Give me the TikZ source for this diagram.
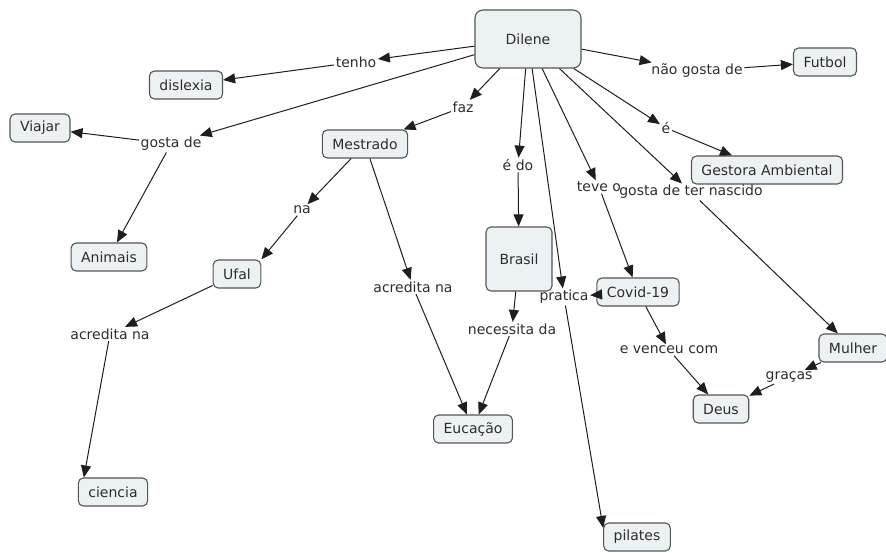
\documentclass[tikz,border=0pt]{standalone}
\usepackage{fontspec}
\setmainfont{DejaVu Sans}
\usepackage{tikz}
\usetikzlibrary{arrows.meta, positioning}
\definecolor{conceptfill}{RGB}{236,241,244}
\definecolor{conceptline}{RGB}{85,85,85}
\definecolor{cmaptext}{RGB}{45,45,45}
\definecolor{cmaparrow}{RGB}{30,30,30}
\tikzset{
  concept/.style={
    rectangle, rounded corners=5pt, draw=conceptline, fill=conceptfill,
    line width=1.1pt, minimum height=28pt, inner xsep=10pt,
    font=\fontsize{14}{16}\selectfont, text=cmaptext
  },
  linkphrase/.style={
    inner sep=1.5pt, font=\fontsize{14}{16}\selectfont, text=cmaptext
  },
  cmaparc/.style={
    -{Triangle[length=12pt,width=10pt]}, line width=1pt, draw=cmaparrow
  },
}

\begin{document}
\begin{tikzpicture}[x=1pt, y=-1pt]
  \useasboundingbox (0,0) rectangle (886,553);
  \node[concept, minimum width=106pt, minimum height=58pt,
        rounded corners=8pt] (dilene) at (528,39) {Dilene};
  \node[concept] (futbol)   at (825,62)  {Futbol};
  \node[concept] (dislexia) at (186,85)  {dislexia};
  \node[concept] (viajar)   at (40,128)  {Viajar};
  \node[concept] (mestrado) at (365,144) {Mestrado};
  \node[concept] (gestora)  at (767,170) {Gestora Ambiental};
  \node[concept] (animais)  at (109,257) {Animais};
  \node[concept] (ufal)     at (237,274) {Ufal};
  \node[concept, minimum width=66pt, minimum height=64pt]
        (brasil) at (519,259) {Brasil};
  \node[concept] (covid)    at (638,292) {Covid-19};
  \node[concept] (mulher)   at (853,348) {Mulher};
  \node[concept] (deus)     at (721,409) {Deus};
  \node[concept] (educacao) at (473,429) {Eucação};
  \node[concept] (ciencia)  at (113,492) {ciencia};
  \node[concept] (pilates)  at (637,537) {pilates};

  \node[linkphrase] (tenho)     at (356,62)  {tenho};
  \node[linkphrase] (gostade)   at (171,144) {gosta de};
  \node[linkphrase] (faz)       at (463,107) {faz};
  \node[linkphrase] (naogosta)  at (697,71)  {não gosta de};
  \node[linkphrase] (eh)        at (666,128) {é};
  \node[linkphrase] (ehdo)      at (518,165) {é do};
  \node[linkphrase] (teveo)     at (599,187) {teve o};
  \node[linkphrase] (nascido)   at (691,192) {gosta de ter nascido};
  \node[linkphrase] (na)        at (302,210) {na};
  \node[linkphrase] (acredmest) at (413,287) {acredita na};
  \node[linkphrase] (acredufal) at (110,334) {acredita na};
  \node[linkphrase] (necessita) at (512,329) {necessita da};
  \node[linkphrase] (pratica)   at (564,297) {pratica};
  \node[linkphrase] (venceu)    at (669,350) {e venceu com};
  \node[linkphrase] (gracas)    at (789,377) {graças};

  \draw[cmaparc] (dilene) -- (tenho);
  \draw[cmaparc] (tenho) -- (dislexia);
  \draw[cmaparc] (dilene) -- (gostade);
  \draw[cmaparc] (gostade) -- (viajar);
  \draw[cmaparc] (gostade) -- (animais);
  \draw[cmaparc] (dilene) -- (faz);
  \draw[cmaparc] (faz) -- (mestrado);
  \draw[cmaparc] (dilene) -- (naogosta);
  \draw[cmaparc] (naogosta) -- (futbol);
  \draw[cmaparc] (dilene) -- (eh);
  \draw[cmaparc] (eh) -- (gestora);
  \draw[cmaparc] (dilene) -- (ehdo);
  \draw[cmaparc] (ehdo) -- (brasil);
  \draw[cmaparc] (dilene) -- (teveo);
  \draw[cmaparc] (teveo) -- (covid);
  \draw[cmaparc] (dilene) -- (nascido);
  \draw[cmaparc] (nascido) -- (mulher);
  \draw[cmaparc] (dilene) -- (pratica);
  \draw[cmaparc] (covid) -- (pratica);
  \draw[cmaparc] (pratica) -- (pilates.165);
  \draw[cmaparc] (mestrado) -- (na);
  \draw[cmaparc] (na) -- (ufal.north east);
  \draw[cmaparc] (mestrado) -- (acredmest);
  \draw[cmaparc] (acredmest) -- (educacao);
  \draw[cmaparc] (ufal) -- (acredufal);
  \draw[cmaparc] (acredufal) -- ([xshift=6pt]ciencia.north west);
  \draw[cmaparc] (brasil) -- (necessita);
  \draw[cmaparc] (necessita) -- (educacao);
  \draw[cmaparc] (covid) -- (venceu);
  \draw[cmaparc] (venceu) -- (deus);
  \draw[cmaparc] (mulher) -- (gracas);
  \draw[cmaparc] (gracas) -- (deus);
\end{tikzpicture}
\end{document}
